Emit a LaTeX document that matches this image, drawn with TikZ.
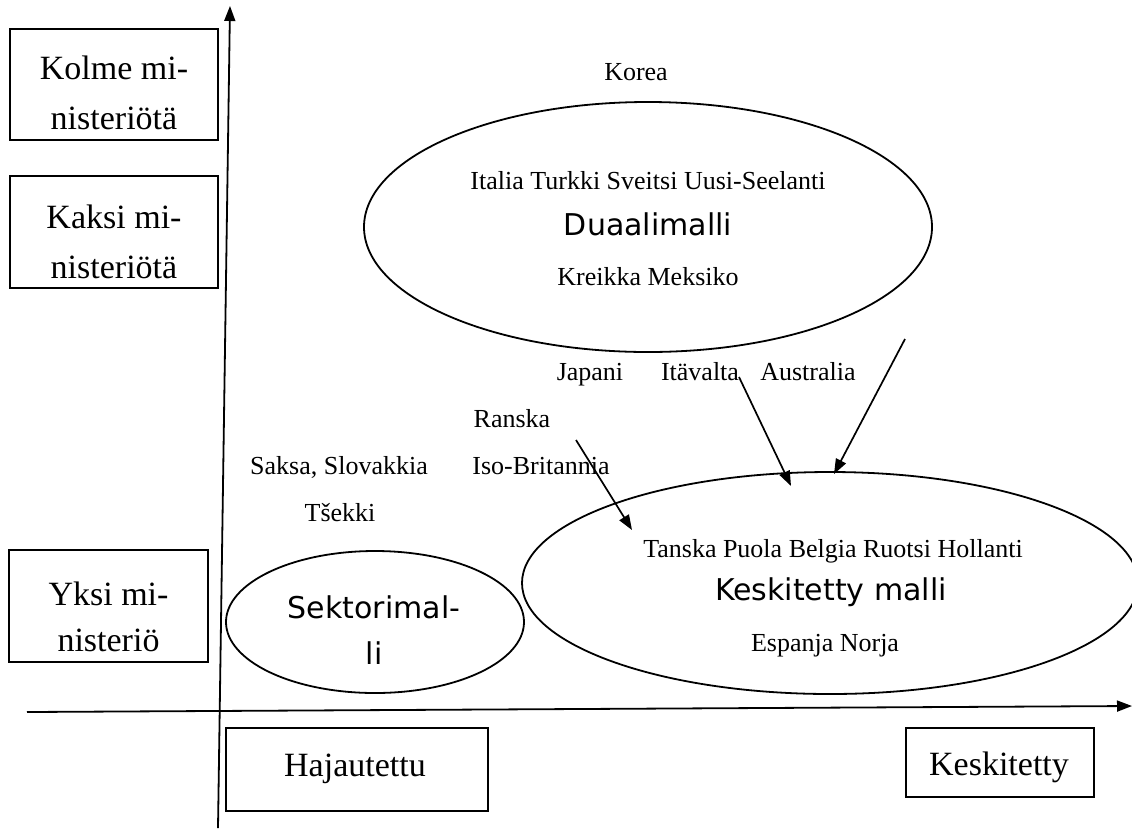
\documentclass[tikz,border=0pt]{standalone}
\usepackage{fontspec}
\setmainfont{Liberation Serif}
\newfontfamily\sansf{DejaVu Sans}
\usetikzlibrary{arrows.meta,shapes.geometric}
\tikzset{
  ln/.style={line width=1.7pt, black},
  arr/.style={ln, -{Triangle[length=15pt,width=11pt]}},
  axis/.style={line width=1.8pt, -{Triangle[length=15pt,width=11pt]}},
  box/.style={draw, line width=1.7pt, inner sep=0pt},
  boxtext/.style={align=center, inner sep=0pt, font=\fontsize{34}{50}\selectfont},
  small/.style={inner sep=0pt, anchor=base, font=\fontsize{26}{30}\selectfont},
  model/.style={inner sep=0pt, align=center, font=\sansf\fontsize{30}{46}\selectfont},
  oval/.style={draw, ellipse, line width=1.8pt, inner sep=0pt},
}
\begin{document}
\begin{tikzpicture}[x=1pt,y=-1pt]
\useasboundingbox (0,0) rectangle (1132,831);
% axes
\coordinate (ybot) at (218,828);
\coordinate (ytop) at (230,6);
\coordinate (xl) at (27,712);
\coordinate (xr) at (1132,706);
\draw[axis] (ybot) -- (ytop);
\draw[axis] (xl) -- (xr);
% left boxes
\node[box, minimum width=208pt, minimum height=111pt] (kolme) at (114,84.5) {};
\node[boxtext] (kolmet) at ([yshift=-8pt]kolme.center) {Kolme mi-\\nisteriötä};
\node[box, minimum width=208pt, minimum height=112pt] (kaksi) at (114,232) {};
\node[boxtext] (kaksit) at ([yshift=-10pt]kaksi.center) {Kaksi mi-\\nisteriötä};
\node[box, minimum width=199pt, minimum height=112pt] (yksi) at (108.5,606) {};
\node[boxtext, font=\fontsize{34}{46}\selectfont] (yksit) at ([yshift=-11pt]yksi.center) {Yksi mi-\\nisteriö};
% bottom boxes
\node[box, minimum width=262pt, minimum height=83pt] (haj) at (357,769.5) {};
\node[boxtext] (hajt) at (355,769) {Hajautettu};
\node[box, minimum width=188pt, minimum height=69pt] (kesk) at (1000,762.5) {};
\node[boxtext] (keskt) at (999,767) {Keskitetty};
% ellipses
\node[oval, minimum width=568pt, minimum height=250pt] (dual) at (648,227) {};
\node[oval, minimum width=616pt, minimum height=222pt] (cent) at (830,583) {};
\node[oval, minimum width=298pt, minimum height=142pt] (sect) at (375,622) {};
% texts in Duaalimalli
\node[small] (korea) at (636,80) {Korea};
\node[small] (ital) at (648,189) {Italia Turkki Sveitsi Uusi-Seelanti};
\node[model] (dualt) at (648,224) {Duaalimalli};
\node[small] (kreik) at (648,285) {Kreikka Meksiko};
% middle texts
\node[small] (jap) at (590,380) {Japani};
\node[small] (itav) at (700,380) {Itävalta};
\node[small] (aus) at (808,380) {Australia};
\node[small] (ran) at (512,427) {Ranska};
\node[small] (saksa) at (339,474) {Saksa, Slovakkia};
\node[small] (iso) at (541,474) {Iso-Britannia};
\node[small] (tse) at (340,521) {Tšekki};
% centralized texts
\node[small] (tansk) at (833,557) {Tanska Puola Belgia Ruotsi Hollanti};
\node[model] (centt) at (831,592) {Keskitetty malli};
\node[small] (espa) at (825,651) {Espanja Norja};
% sector text
\node[model] (sectt) at (374,630) {Sektorimal-\\li};
% arrows
\coordinate (a1s) at (576,440);
\coordinate (a1e) at (632,530);
\coordinate (a2s) at (739,377);
\coordinate (a2e) at (791,486);
\coordinate (a3s) at (905,339);
\coordinate (a3e) at (834,474);
\draw[arr] (a1s) -- (a1e);
\draw[arr] (a2s) -- (a2e);
\draw[arr] (a3s) -- (a3e);
\end{tikzpicture}
\end{document}
